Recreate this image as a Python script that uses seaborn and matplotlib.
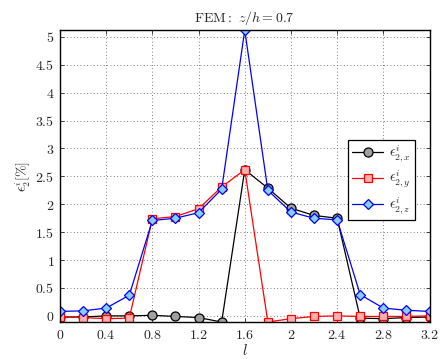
import numpy as np
import pandas as pd
import matplotlib
matplotlib.use("Agg")
import matplotlib.pyplot as plt
import seaborn as sns

l_vals = [0, 0.2, 0.4, 0.6, 0.8, 1.0, 1.2, 1.4, 1.6, 1.8, 2.0, 2.2, 2.4, 2.6, 2.8, 3.0, 3.2]
eps_x = [-0.02, -0.02, 0.0, 0.0, 0.01, -0.01, -0.03, -0.11, 2.62, 2.29, 1.93, 1.80, 1.75, -0.04, -0.05, -0.03, -0.02]
eps_y = [-0.02, -0.03, -0.05, -0.04, 1.74, 1.78, 1.92, 2.31, 2.62, -0.11, -0.05, -0.01, 0.0, -0.01, -0.01, -0.01, 0.0]
eps_z = [0.08, 0.09, 0.14, 0.37, 1.71, 1.75, 1.85, 2.27, 5.12, 2.25, 1.86, 1.75, 1.72, 0.38, 0.14, 0.10, 0.08]
labels = [r"$\epsilon^i_{2,x}$", r"$\epsilon^i_{2,y}$", r"$\epsilon^i_{2,z}$"]
xticks = [0, 0.4, 0.8, 1.2, 1.6, 2, 2.4, 2.8, 3.2]
yticks = [0, 0.5, 1, 1.5, 2, 2.5, 3, 3.5, 4, 4.5, 5]

sns.set_style("ticks")
plt.rcParams["mathtext.fontset"] = "cm"
plt.rcParams["font.family"] = ["DejaVu Serif"]
plt.rcParams["xtick.direction"] = "in"
plt.rcParams["ytick.direction"] = "in"

fig = plt.figure(figsize=(4.41, 3.59), dpi=100)
ax = fig.add_axes([0.136, 0.103, 0.838, 0.813])

styles = [
    dict(color="black", marker="o", mfc="#a0a0a0", mec="black"),
    dict(color="red", marker="s", mfc="#ffb0b0", mec="red"),
    dict(color="blue", marker="D", mfc="#87cefa", mec="blue"),
]
for vals, lab, st in zip([eps_x, eps_y, eps_z], labels, styles):
    df = pd.DataFrame({"l": l_vals, "v": vals})
    sns.lineplot(data=df, x="l", y="v", ax=ax, color=st["color"], marker=st["marker"],
                 markerfacecolor=st["mfc"], markeredgecolor=st["mec"], markeredgewidth=0.9,
                 markersize=6.5 if st["marker"] == "o" else (6 if st["marker"] == "s" else 5.5),
                 linewidth=0.9, label=lab)

ax.set_xlim(0, 3.2)
ax.set_ylim(-0.11, 5.12)
ax.set_xticks(xticks)
ax.set_xticklabels([f"${t:g}$" for t in xticks], fontsize=10)
ax.set_yticks(yticks)
ax.set_yticklabels([f"${t:g}$" for t in yticks], fontsize=10)
ax.tick_params(top=True, right=True, length=3, width=0.6, pad=4)
ax.grid(True, linestyle=(0, (1, 3)), color="#555555", linewidth=0.6)
for s in ax.spines.values():
    s.set_linewidth(1.0)
    s.set_color("black")
ax.set_xlabel(r"$l$", fontsize=11, labelpad=1)
ax.set_ylabel(r"$\epsilon_2^i[\%]$", fontsize=10, labelpad=2)
ax.set_title(r"$\mathrm{FEM:}\ z/h=0.7$", fontsize=10, pad=6)
leg = ax.legend(loc="upper right", bbox_to_anchor=(0.96, 0.625), fontsize=10, frameon=True,
                fancybox=False, edgecolor="black", framealpha=1, handlelength=2.2,
                borderpad=0.3, labelspacing=0.35, handletextpad=0.4, borderaxespad=0)
leg.get_frame().set_linewidth(0.9)
fig.savefig("out.png", dpi=100)
